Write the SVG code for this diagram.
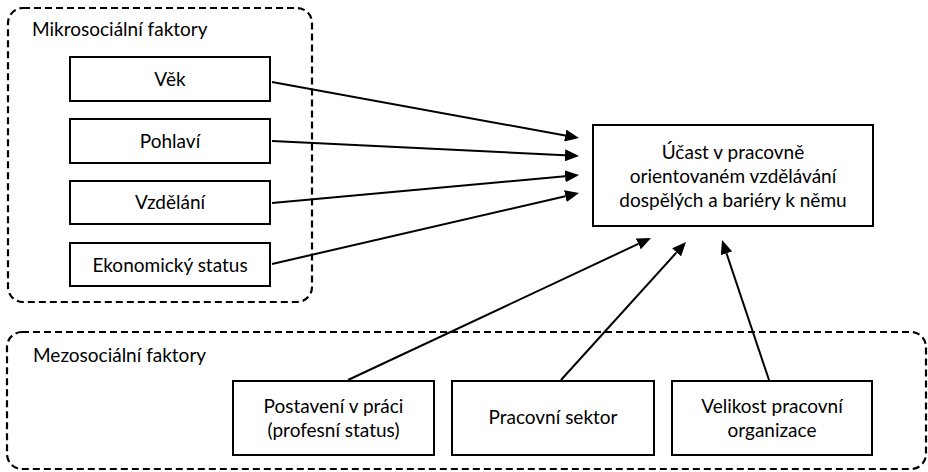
<svg xmlns="http://www.w3.org/2000/svg" width="928" height="472" viewBox="0 0 928 472">
<style>
text{font-family:Lato,"Liberation Sans",sans-serif;font-size:19px;font-weight:400;fill:#000}
.c{text-anchor:middle}
.box{fill:#fff;stroke:#000;stroke-width:2}
.grp{fill:none;stroke:#000;stroke-width:2.2;stroke-dasharray:7 4}
.edge{fill:none;stroke:#000;stroke-width:2;marker-end:url(#ah)}
</style>
<defs>
<marker id="ah" viewBox="0 0 14 12" refX="0" refY="6" markerWidth="14" markerHeight="12" markerUnits="userSpaceOnUse" orient="auto">
<path d="M0,0 L14,6 L0,12 z" fill="#000"/>
</marker>
</defs>
<rect width="928" height="472" fill="#fff"/>
<g id="micro">
<rect class="grp" x="8" y="8" width="304" height="294" rx="15"/>
<text x="32" y="36">Mikrosociální faktory</text>
</g>
<g id="meso">
<rect class="grp" x="7" y="332" width="919" height="137" rx="15"/>
<text x="33" y="362">Mezosociální faktory</text>
</g>
<g id="vek"><rect class="box" x="70" y="57" width="200" height="44"/><text class="c" x="170" y="86">Věk</text></g>
<g id="pohlavi"><rect class="box" x="70" y="119" width="200" height="44"/><text class="c" x="170" y="148">Pohlaví</text></g>
<g id="vzdelani"><rect class="box" x="70" y="181" width="200" height="43"/><text class="c" x="170" y="209">Vzdělání</text></g>
<g id="ekonomicky"><rect class="box" x="70" y="243" width="200" height="43"/><text class="c" x="170" y="272">Ekonomický status</text></g>
<g id="ucast"><rect class="box" x="593" y="125" width="280" height="101"/>
<text class="c" x="733" y="159">Účast v pracovně</text>
<text class="c" x="733" y="183">orientovaném vzdělávání</text>
<text class="c" x="733" y="207">dospělých a bariéry k němu</text></g>
<g id="postaveni"><rect class="box" x="233" y="381" width="201" height="74"/>
<text class="c" x="333.5" y="413">Postavení v práci</text>
<text class="c" x="333.5" y="437">(profesní status)</text></g>
<g id="sektor"><rect class="box" x="452" y="381" width="202" height="74"/>
<text class="c" x="553" y="424">Pracovní sektor</text></g>
<g id="velikost"><rect class="box" x="672" y="381" width="200" height="74"/>
<text class="c" x="772" y="413">Velikost pracovní</text>
<text class="c" x="772" y="437">organizace</text></g>
<g id="connectors">
<path class="edge" d="M272,82 L565.2,135.5"/>
<path class="edge" d="M272,141 L565,155.3"/>
<path class="edge" d="M272,203 L565.1,176.3"/>
<path class="edge" d="M272,264 L565.4,196.2"/>
<path class="edge" d="M348,380 L638.3,243.9"/>
<path class="edge" d="M561,380 L676.6,252.4"/>
<path class="edge" d="M769,380 L726.5,253.3"/>
</g>
</svg>
